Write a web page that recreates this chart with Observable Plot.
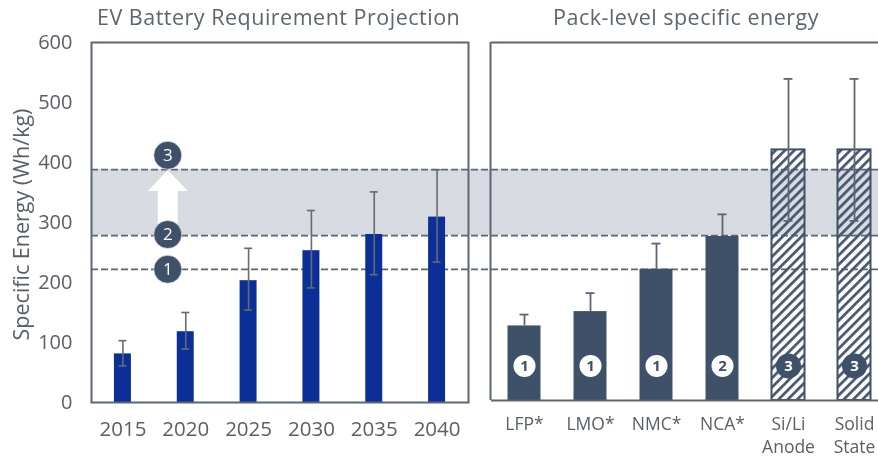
<!DOCTYPE html>
<html><head><meta charset="utf-8">
<script src="https://cdn.jsdelivr.net/npm/d3@7"></script>
<script src="https://cdn.jsdelivr.net/npm/@observablehq/plot@0.6"></script>
<style>
html,body{margin:0;padding:0;background:#fff;}
#wrap{position:relative;width:878px;height:462px;overflow:hidden;font-family:"Open Sans",sans-serif;filter:blur(0.35px);}
#wrap svg{position:absolute;left:0;top:0;background:transparent;overflow:hidden;}
.ttl{position:absolute;top:3px;font-size:21.5px;line-height:28px;color:#5b6670;letter-spacing:.5px;white-space:nowrap;}
</style></head><body>
<div id="wrap">
<div class="ttl" style="left:97px">EV Battery Requirement Projection</div>
<div class="ttl" style="left:553px">Pack-level specific energy</div>
</div>
<script>
const years = ["2015","2020","2025","2030","2035","2040"];
const yearValue = [81,118,203,253,280,309];
const yearHigh  = [103,150,257,320,351,388];
const yearLow   = [61,89,154,191,213,234];

const chemistries = ["LFP*","LMO*","NMC*","NCA*","Si/Li\nAnode","Solid\nState"];
const chemValue = [125,149,220,275,420,420];
const chemHigh  = [144,180,263,312,539,539];
const chemLow   = [125,149,220,275,301,301];
const chemBadge = ["1","1","1","2","3","3"];

const levels = [222,278,388];
const levelNames = ["1","2","3"];
const badgeValues = [222,280,412];
const badgeAt = [58];

const W = 878, H = 462;
const TXT = "#595f66", LINE = "#5d6673", NAVY = "#0b2f97", SLATE = "#3f5069", BAND = "#d7dae0";
const yDomain = [0,600];
const base = {width:W, height:H, marginTop:42, marginLeft:91, marginRight:0, marginBottom:60,
  style:{background:"transparent", fontFamily:'"Open Sans",sans-serif'}};
const yScale = {domain:yDomain, axis:null};

const zip = (names, vals, hi, lo) => names.map((n,i)=>({n, v:vals[i], hi:hi[i], lo:lo[i]}));
const left = zip(years, yearValue, yearHigh, yearLow);
const right = zip(chemistries, chemValue, chemHigh, chemLow).map((d,i)=>({...d, badge:chemBadge[i], at:badgeAt[0]}));
const solid = right.slice(0,4), hatched = right.slice(4);

const wrap = document.getElementById("wrap");

// shared background: band and dashed thresholds, running across both panels
const back = Plot.plot({...base, y:yScale, x:{axis:null},
  marks:[
    Plot.rectY([0],{y1:()=>levels[1], y2:()=>levels[2], fill:BAND}),
    Plot.ruleY(levels,{stroke:LINE, strokeWidth:1.7, strokeDasharray:"7 3"})
  ]});
wrap.appendChild(back);

const errs = (o) => [
  Plot.ruleX(o.data,{x:"n", y1:"lo", y2:"hi", stroke:o.color, strokeWidth:o.w}),
  Plot.tickY(o.data,{x:"n", y:"hi", stroke:o.color, strokeWidth:o.w, insetLeft:o.cap, insetRight:o.cap}),
  Plot.tickY(o.low,{x:"n", y:"lo", stroke:o.color, strokeWidth:o.w, insetLeft:o.cap, insetRight:o.cap})
];

// wide, flat arrow head
const arrowHead = {draw(c){ c.moveTo(0,-10.5); c.lineTo(20,10.5); c.lineTo(-20,10.5); c.closePath(); }};

const leftPlot = Plot.plot({...base, marginRight:W-468, y:{...yScale},
  x:{domain:years, paddingInner:0.73, paddingOuter:0.365, round:false, align:.5, label:null},
  marks:[
    Plot.barY(left,{x:"n", y:"v", fill:NAVY}),
    errs({data:left, low:left, color:"#666b73", w:1.6, cap:4.5}),
    Plot.ruleX(["2020"],{x:d=>d, y1:()=>290, y2:()=>360, stroke:"#fff", strokeWidth:20, dx:-18}),
    Plot.dot(["2020"],{x:d=>d, y:()=>370, symbol:arrowHead, fill:"#fff", dx:-18}),
    Plot.dot(badgeValues,{x:()=>"2020", y:d=>d, r:14, fill:SLATE, stroke:"#fff", strokeWidth:.6, dx:-18}),
    Plot.text(badgeValues,{x:()=>"2020", y:d=>d, text:(d,i)=>levelNames[i], fill:"#fff", fontSize:17, dx:-18}),
    Plot.frame({stroke:LINE, strokeWidth:2}),
    Plot.axisY({ticks:[0,100,200,300,400,500,600], tickSize:0, tickPadding:19, fontSize:20, color:TXT, label:null}),
    Plot.axisX({tickSize:0, tickPadding:19, fontSize:20.5, color:TXT, label:null}),
    Plot.text(["Specific Energy (Wh/kg)"],{frameAnchor:"left", textAnchor:"middle", rotate:-90, dx:-69, dy:2, fontSize:21.5, fill:TXT})
  ]});
wrap.appendChild(leftPlot);

const hatchDefs = () => {
  const g = d3.create("svg:defs");
  g.html('<pattern id="hatch" patternUnits="userSpaceOnUse" width="6.6" height="6.6" patternTransform="rotate(45)"><rect width="2.7" height="6.6" fill="#465670"/></pattern>');
  return g.node();
};

const rightPlot = Plot.plot({...base, marginLeft:491, marginRight:W-887, marginBottom:62,
  clip:false, y:{...yScale},
  x:{domain:chemistries, paddingInner:0.5, paddingOuter:0.25, round:false, align:.5, label:null},
  marks:[
    hatchDefs,
    Plot.barY(solid,{x:"n", y:"v", fill:SLATE}),
    Plot.barY(hatched,{x:"n", y:"v", fill:"url(#hatch)", stroke:SLATE, strokeWidth:2}),
    errs({data:right, low:hatched, color:"#5b6677", w:1.8, cap:12}),
    Plot.dot(solid,{x:"n", y:"at", r:11, fill:"#fff"}),
    Plot.text(solid,{x:"n", y:"at", text:"badge", fill:SLATE, fontSize:15, fontWeight:"bold"}),
    Plot.dot(hatched,{x:"n", y:"at", r:12.5, fill:SLATE}),
    Plot.text(hatched,{x:"n", y:"at", text:"badge", fill:"#fff", fontSize:15, fontWeight:"bold"}),
    Plot.ruleY([0,600],{stroke:LINE, strokeWidth:2}),
    Plot.ruleX(chemistries.slice(0,1),{x:d=>d, y1:()=>0, y2:()=>600, dx:-34, stroke:LINE, strokeWidth:2}),
    Plot.axisX({tickSize:0, tickPadding:13, fontSize:17.5, color:TXT, label:null, lineHeight:1.32})
  ]});
wrap.appendChild(rightPlot);
</script>
</body></html>
